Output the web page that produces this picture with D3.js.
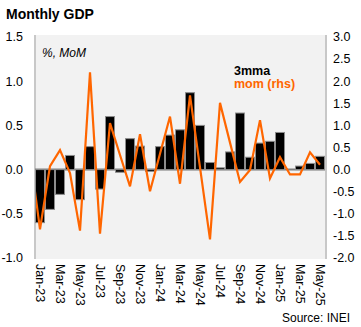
<!DOCTYPE html>
<html><head><meta charset="utf-8">
<script src="https://cdn.jsdelivr.net/npm/d3@7"></script>
<style>body{margin:0;background:#fff}svg{display:block}text{font-family:"Liberation Sans",Arial,sans-serif}</style>
</head><body>
<svg id="c" width="361" height="327"></svg>
<script>
const months = ["Jan-23","Feb-23","Mar-23","Apr-23","May-23","Jun-23","Jul-23","Aug-23","Sep-23","Oct-23","Nov-23","Dec-23",
"Jan-24","Feb-24","Mar-24","Apr-24","May-24","Jun-24","Jul-24","Aug-24","Sep-24","Oct-24","Nov-24","Dec-24",
"Jan-25","Feb-25","Mar-25","Apr-25","May-25"];
const mma3 = [-0.6,-0.45,-0.28,0.16,-0.34,0.26,-0.22,0.6,-0.03,0.35,0.265,-0.02,
0.26,0.39,0.45,0.87,0.5,0.08,0.02,0.2,0.64,0.14,0.3,0.32,
0.42,0.0,0.04,0.07,0.15];
const lineMonths = ["Dec-22"].concat(months);
const mom = [0.35,-1.35,0.08,0.44,-0.08,-1.38,2.2,-1.45,1.05,0.33,-0.38,0.8,-0.49,
0.36,1.2,-0.32,1.68,0.05,-1.58,1.51,0.61,-0.28,-0.01,1.12,-0.2,
0.28,-0.11,-0.11,0.39,0.11];
const leftTicks = [-1.0,-0.5,0.0,0.5,1.0,1.5];
const rightTicks = [-2.0,-1.5,-1.0,-0.5,0.0,0.5,1.0,1.5,2.0,2.5,3.0];
const xLabels = months.filter((d,i)=>i%2===0);

const svg = d3.select("#c");
const L = 35, R = 325, T = 37, B = 258;
const x = d3.scaleBand().domain(months).range([L, R]).padding(0);
const bw = x.bandwidth();
const xl = d3.scalePoint().domain(lineMonths).range([x(months[0]) + bw/2 - bw, x(months[months.length-1]) + bw/2]);
const yL = d3.scaleLinear().domain([-1, 1.5]).range([B, T]);
const yR = d3.scaleLinear().domain([-2, 3]).range([B, T]);

// plot background
svg.append("rect").attr("x", L).attr("y", T-2).attr("width", R-L+1).attr("height", B-T+3).attr("fill", "#f2f2f2");
svg.append("line").attr("x1", L).attr("x2", L).attr("y1", T-2).attr("y2", B+1).attr("stroke", "#c8c8c8").attr("stroke-width", 2);
svg.append("line").attr("x1", R+1).attr("x2", R+1).attr("y1", T-2).attr("y2", B+1).attr("stroke", "#c8c8c8").attr("stroke-width", 2);

svg.append("defs").append("clipPath").attr("id","clip").append("rect")
  .attr("x", L+1).attr("y", T-2).attr("width", R-L).attr("height", B-T+3);

// zero line
svg.append("line").attr("x1", L).attr("x2", R).attr("y1", yL(0)).attr("y2", yL(0)).attr("stroke", "#7f7f7f").attr("stroke-width", 2);

// bars
svg.append("g").selectAll("rect").data(months).join("rect")
  .attr("x", d => x(d) + 0.5)
  .attr("width", bw - 1)
  .attr("y", (d,i) => yL(Math.max(0, mma3[i])))
  .attr("height", (d,i) => Math.abs(yL(mma3[i]) - yL(0)))
  .attr("fill", "#000").attr("stroke", "#8c8c8c").attr("stroke-width", 1);

// line
const lineGen = d3.line().x((d,i) => xl(lineMonths[i])).y(d => yR(d));
svg.append("path").datum(mom).attr("d", lineGen).attr("clip-path","url(#clip)")
  .attr("fill","none").attr("stroke","#ff6600").attr("stroke-width",2.2).attr("stroke-linejoin","miter");

// left axis labels
svg.append("g").selectAll("text").data(leftTicks).join("text")
  .attr("x", 23).attr("y", d => yL(d)).attr("dy","0.35em").attr("text-anchor","end")
  .attr("font-size", 12.5).attr("fill","#000").text(d => d3.format(".1f")(d).replace("−","-"));
// right axis labels
svg.append("g").selectAll("text").data(rightTicks).join("text")
  .attr("x", 333).attr("y", d => yR(d)).attr("dy","0.35em").attr("text-anchor","start")
  .attr("font-size", 12.5).attr("fill","#000").text(d => d3.format(".1f")(d).replace("−","-"));

// x labels rotated
svg.append("g").selectAll("text").data(xLabels).join("text")
  .attr("transform", d => `translate(${x(d) + bw/2},${B + 6}) rotate(90)`)
  .attr("dy","0.35em").attr("text-anchor","start")
  .attr("font-size", 12.5).attr("fill","#000").text(d => d);

// title & annotations
svg.append("text").attr("x", 6).attr("y", 19).attr("font-size", 14).attr("font-weight","bold").text("Monthly GDP");
svg.append("text").attr("x", 42).attr("y", 57).attr("font-size", 12).attr("font-style","italic").text("%, MoM");
svg.append("text").attr("x", 234).attr("y", 75).attr("font-size", 12.5).attr("font-weight","bold").attr("fill","#000").text("3mma");
svg.append("text").attr("x", 234).attr("y", 88).attr("font-size", 12.5).attr("font-weight","bold").attr("fill","#ff6600").text("mom (rhs)");
svg.append("text").attr("x", 350).attr("y", 322).attr("text-anchor","end").attr("font-size", 12).text("Source: INEI");
</script>
</body></html>
